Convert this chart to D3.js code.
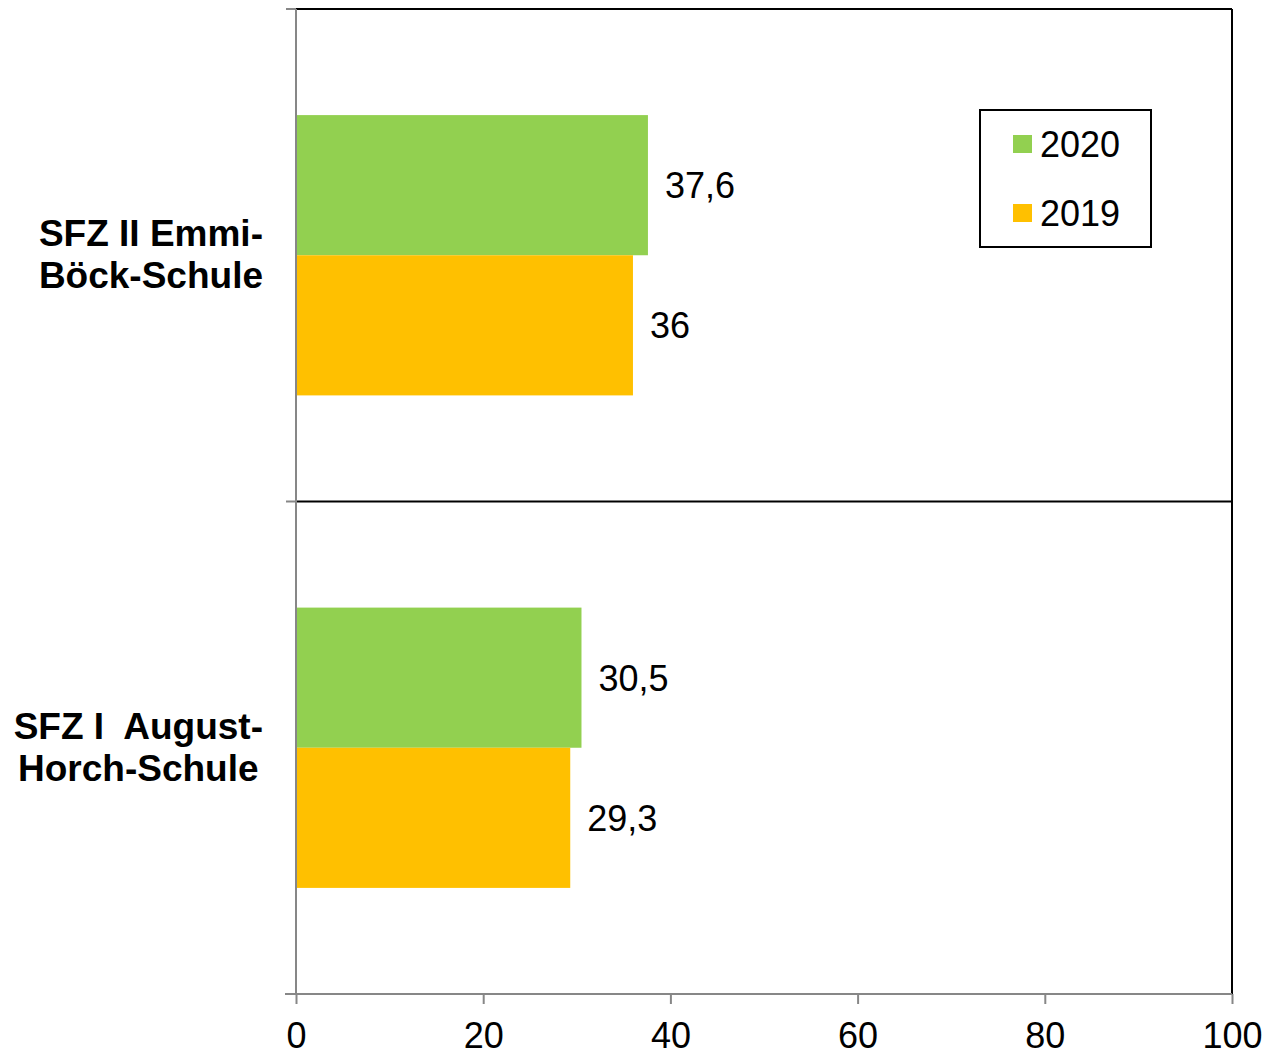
<!DOCTYPE html>
<html>
<head>
<meta charset="utf-8">
<script src="https://cdn.jsdelivr.net/npm/d3@7"></script>
<style>
  body { margin: 0; background: #fff; }
  svg text { font-family: "Liberation Sans", Arial, sans-serif; fill: #000; }
</style>
</head>
<body>
<svg id="chart" width="1265" height="1054"></svg>
<script>
// data
const categories = ['SFZ II Emmi-Böck-Schule', 'SFZ I  August-Horch-Schule']
const categoryLines = [['SFZ II Emmi-', 'Böck-Schule'], ['SFZ I\u00a0 August-', 'Horch-Schule']]
const series = ['2020', '2019']
const values2020 = [37.6, 30.5]
const values2019 = [36, 29.3]
const labels2020 = ['37,6', '30,5']
const labels2019 = ['36', '29,3']
const xTicks = [0, 20, 40, 60, 80, 100]

const COLORS = { '2020': '#92D050', '2019': '#FFC000' }
const GREY = '#878787'

const margin = { top: 9, right: 33, bottom: 60, left: 296 }
const W = 1265, H = 1054
const svg = d3.select('#chart')

const x = d3.scaleLinear().domain([0, 100]).range([margin.left, W - margin.right])
const y0 = d3.scaleBand().domain(categories).range([margin.top, H - margin.bottom]).padding(0)
const y1 = d3.scaleBand().domain(series).range([0, y0.bandwidth()]).paddingInner(0).paddingOuter(0.757)

const rows = categories.map((c, i) => ({
    cat: c,
    lines: categoryLines[i],
    bars: [
        { s: '2020', v: values2020[i], label: labels2020[i] },
        { s: '2019', v: values2019[i], label: labels2019[i] }
    ]
}))

// frame: top + right border and category divider in black
svg.append('line')
    .attr('x1', x(0)).attr('x2', x(100))
    .attr('y1', margin.top).attr('y2', margin.top)
    .style('stroke', '#000').style('stroke-width', 2)
svg.append('line')
    .attr('x1', x(100)).attr('x2', x(100))
    .attr('y1', margin.top).attr('y2', H - margin.bottom)
    .style('stroke', '#000').style('stroke-width', 2)
svg.append('line')
    .attr('x1', x(0)).attr('x2', x(100))
    .attr('y1', y0(categories[1])).attr('y2', y0(categories[1]))
    .style('stroke', '#000').style('stroke-width', 2)

// bars
const groups = svg.selectAll('g.cat')
    .data(rows)
    .enter().append('g')
    .attr('class', 'cat')
    .attr('transform', d => `translate(0,${y0(d.cat)})`)

groups.selectAll('rect')
    .data(d => d.bars)
    .enter().append('rect')
    .attr('x', x(0))
    .attr('y', d => y1(d.s))
    .attr('width', d => x(d.v) - x(0))
    .attr('height', y1.bandwidth())
    .style('fill', d => COLORS[d.s])

groups.selectAll('text.val')
    .data(d => d.bars)
    .enter().append('text')
    .attr('class', 'val')
    .attr('x', d => x(d.v) + 17)
    .attr('y', d => y1(d.s) + y1.bandwidth() / 2 + 13)
    .style('font-size', '36px')
    .text(d => d.label)

// category labels, each block right-aligned, lines centred within it
const labelRight = 263
groups.each(function (d) {
    const g = d3.select(this)
    const t = g.append('text')
        .style('font-size', '37px')
        .style('font-weight', 'bold')
        .attr('text-anchor', 'middle')
    const lh = 42
    const cy = y0.bandwidth() / 2
    d.lines.forEach((ln, j) => {
        t.append('tspan')
            .attr('x', 0)
            .attr('y', cy - lh / 2 + j * lh + 12)
            .text(ln)
    })
    const w = t.node().getBBox().width
    t.selectAll('tspan').attr('x', labelRight - w / 2)
})

// axes in grey
const xAxis = svg.append('g')
    .attr('transform', `translate(0,${H - margin.bottom})`)
    .call(d3.axisBottom(x).tickValues(xTicks).tickSize(10).tickSizeOuter(0).tickPadding(18))
xAxis.select('.domain').remove()
xAxis.append('line')
    .attr('x1', x(0) - 11).attr('x2', x(100))
    .style('stroke', GREY).style('stroke-width', 2)
xAxis.selectAll('.tick line').style('stroke', GREY).style('stroke-width', 2)
xAxis.selectAll('.tick text')
    .style('font-size', '36px')
    .style('font-family', '"Liberation Sans", Arial, sans-serif')
    .attr('fill', '#000')

const yAxis = svg.append('g')
svg.append('line')
    .attr('x1', x(0)).attr('x2', x(0))
    .attr('y1', margin.top).attr('y2', H - margin.bottom)
    .style('stroke', GREY).style('stroke-width', 2)
yAxis.selectAll('line')
    .data([margin.top, y0(categories[1]), H - margin.bottom])
    .enter().append('line')
    .attr('x1', x(0) - 10).attr('x2', x(0))
    .attr('y1', d => d).attr('y2', d => d)
    .style('stroke', GREY).style('stroke-width', 2)

// legend
const legend = svg.append('g').attr('transform', 'translate(980,110)')
legend.append('rect')
    .attr('width', 171).attr('height', 137)
    .style('fill', '#fff').style('stroke', '#000').style('stroke-width', 2)
series.forEach((s, i) => {
    legend.append('rect')
        .attr('x', 33).attr('y', 25 + i * 69)
        .attr('width', 19).attr('height', 18)
        .style('fill', COLORS[s])
    legend.append('text')
        .attr('x', 60).attr('y', 47 + i * 69)
        .style('font-size', '36px')
        .text(s)
})
</script>
</body>
</html>
